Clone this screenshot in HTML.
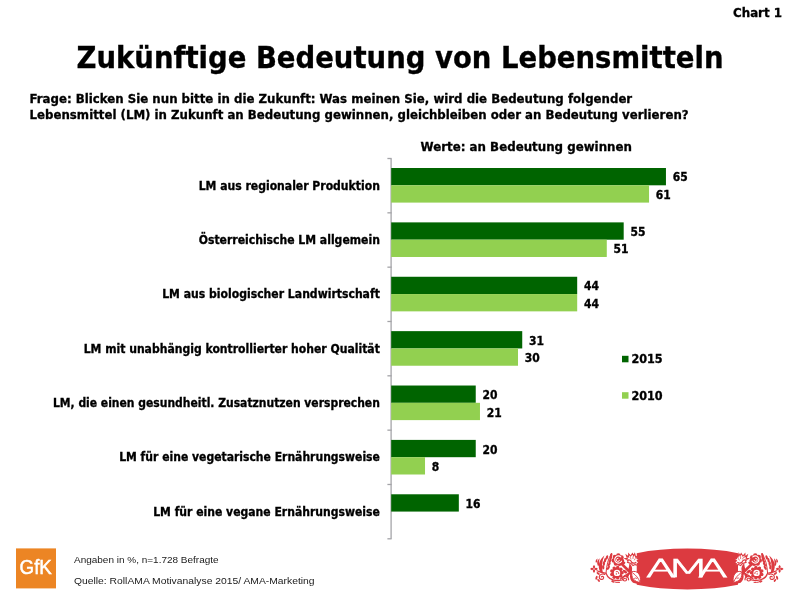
<!DOCTYPE html>
<html lang="de"><head><meta charset="utf-8"><title>Chart 1</title>
<style>html,body{margin:0;padding:0;background:#fff}svg{display:block}text{font-family:'DejaVu Sans Condensed','DejaVu Sans','Liberation Sans',sans-serif;font-weight:bold;fill:#000;stroke:#000;stroke-width:.3px}.s{font-family:'Liberation Sans',sans-serif;font-weight:normal;fill:#1a1a1a;stroke:none}</style></head>
<body>
<svg width="800" height="600" viewBox="0 0 800 600">
<rect width="800" height="600" fill="#fff"/>
<text x="733.00" y="16.60" font-size="13" textLength="49.0" lengthAdjust="spacingAndGlyphs">Chart 1</text>
<text x="76.50" y="67.60" font-size="30" textLength="647.0" lengthAdjust="spacingAndGlyphs">Zukünftige Bedeutung von Lebensmitteln</text>
<text x="29.60" y="102.60" font-size="13" textLength="602.6" lengthAdjust="spacingAndGlyphs">Frage: Blicken Sie nun bitte in die Zukunft: Was meinen Sie, wird die Bedeutung folgender</text>
<text x="29.60" y="118.60" font-size="13" textLength="659.0" lengthAdjust="spacingAndGlyphs">Lebensmittel (LM) in Zukunft an Bedeutung gewinnen, gleichbleiben oder an Bedeutung verlieren?</text>
<text x="420.60" y="150.80" font-size="13" textLength="211.4" lengthAdjust="spacingAndGlyphs">Werte: an Bedeutung gewinnen</text>
<g stroke="#a4a4a8" stroke-width="1.3" fill="none">
<path d="M391.1 158.5V538.8"/>
<path d="M387.4 158.50H391.6"/>
<path d="M387.4 212.83H391.6"/>
<path d="M387.4 267.16H391.6"/>
<path d="M387.4 321.49H391.6"/>
<path d="M387.4 375.82H391.6"/>
<path d="M387.4 430.15H391.6"/>
<path d="M387.4 484.48H391.6"/>
<path d="M387.4 538.81H391.6"/>
</g>
<rect x="391.20" y="168.00" width="274.75" height="17.30" fill="#006400"/>
<text x="672.75" y="181.25" font-size="11.5" textLength="15.0" lengthAdjust="spacingAndGlyphs">65</text>
<rect x="391.20" y="185.30" width="257.85" height="17.30" fill="#92D050"/>
<text x="655.85" y="198.70" font-size="11.5" textLength="15.0" lengthAdjust="spacingAndGlyphs">61</text>
<text x="198.70" y="189.75" font-size="11.7" textLength="181.2" lengthAdjust="spacingAndGlyphs">LM aus regionaler Produktion</text>
<rect x="391.20" y="222.38" width="232.49" height="17.30" fill="#006400"/>
<text x="630.48" y="235.70" font-size="11.5" textLength="15.0" lengthAdjust="spacingAndGlyphs">55</text>
<rect x="391.20" y="239.68" width="215.58" height="17.30" fill="#92D050"/>
<text x="613.58" y="253.15" font-size="11.5" textLength="15.0" lengthAdjust="spacingAndGlyphs">51</text>
<text x="198.70" y="244.08" font-size="11.7" textLength="181.2" lengthAdjust="spacingAndGlyphs">Österreichische LM allgemein</text>
<rect x="391.20" y="276.76" width="185.99" height="17.30" fill="#006400"/>
<text x="583.99" y="290.15" font-size="11.5" textLength="15.0" lengthAdjust="spacingAndGlyphs">44</text>
<rect x="391.20" y="294.06" width="185.99" height="17.30" fill="#92D050"/>
<text x="583.99" y="307.60" font-size="11.5" textLength="15.0" lengthAdjust="spacingAndGlyphs">44</text>
<text x="162.20" y="298.41" font-size="11.7" textLength="217.7" lengthAdjust="spacingAndGlyphs">LM aus biologischer Landwirtschaft</text>
<rect x="391.20" y="331.14" width="131.04" height="17.30" fill="#006400"/>
<text x="529.04" y="344.60" font-size="11.5" textLength="15.0" lengthAdjust="spacingAndGlyphs">31</text>
<rect x="391.20" y="348.44" width="126.81" height="17.30" fill="#92D050"/>
<text x="524.81" y="362.05" font-size="11.5" textLength="15.0" lengthAdjust="spacingAndGlyphs">30</text>
<text x="83.70" y="352.74" font-size="11.7" textLength="296.2" lengthAdjust="spacingAndGlyphs">LM mit unabhängig kontrollierter hoher Qualität</text>
<rect x="391.20" y="385.52" width="84.54" height="17.30" fill="#006400"/>
<text x="482.54" y="399.05" font-size="11.5" textLength="15.0" lengthAdjust="spacingAndGlyphs">20</text>
<rect x="391.20" y="402.82" width="88.77" height="17.30" fill="#92D050"/>
<text x="486.77" y="416.50" font-size="11.5" textLength="15.0" lengthAdjust="spacingAndGlyphs">21</text>
<text x="52.95" y="407.07" font-size="11.7" textLength="326.9" lengthAdjust="spacingAndGlyphs">LM, die einen gesundheitl. Zusatznutzen versprechen</text>
<rect x="391.20" y="439.90" width="84.54" height="17.30" fill="#006400"/>
<text x="482.54" y="453.50" font-size="11.5" textLength="15.0" lengthAdjust="spacingAndGlyphs">20</text>
<rect x="391.20" y="457.20" width="33.82" height="17.30" fill="#92D050"/>
<text x="431.82" y="470.95" font-size="11.5" textLength="7.5" lengthAdjust="spacingAndGlyphs">8</text>
<text x="119.20" y="461.40" font-size="11.7" textLength="260.7" lengthAdjust="spacingAndGlyphs">LM für eine vegetarische Ernährungsweise</text>
<rect x="391.20" y="494.28" width="67.63" height="17.30" fill="#006400"/>
<text x="465.63" y="507.95" font-size="11.5" textLength="15.0" lengthAdjust="spacingAndGlyphs">16</text>
<text x="153.20" y="515.73" font-size="11.7" textLength="226.7" lengthAdjust="spacingAndGlyphs">LM für eine vegane Ernährungsweise</text>
<rect x="622" y="355.8" width="6.5" height="6.5" fill="#006400"/>
<rect x="622" y="392.2" width="6.5" height="6.5" fill="#92D050"/>
<text x="631.40" y="363.20" font-size="11.6" textLength="31.2" lengthAdjust="spacingAndGlyphs">2015</text>
<text x="631.40" y="399.50" font-size="11.6" textLength="31.2" lengthAdjust="spacingAndGlyphs">2010</text>
<rect x="16" y="548.4" width="40" height="40" fill="#EC8524"/>
<text x="19.60" y="574.30" font-size="19.6" textLength="32.2" lengthAdjust="spacingAndGlyphs" class="s" style="fill:#fff;stroke:#fff;stroke-width:0.5">GfK</text>
<text x="74.00" y="562.50" font-size="9.3" textLength="144.6" lengthAdjust="spacingAndGlyphs" class="s">Angaben in %, n=1.728 Befragte</text>
<text x="74.00" y="584.10" font-size="9.3" textLength="240.6" lengthAdjust="spacingAndGlyphs" class="s">Quelle: RollAMA Motivanalyse 2015/ AMA-Marketing</text>
<g id="ama">
<path d="M636.75 553.2A80 20.4 0 0 1 738 553.2L738 584.8A80 20.4 0 0 1 636.75 584.8Z" fill="#DC3A40"/>
<g id="orn"><g fill="#DC3A40" stroke="none">
<path d="M594.10 569.00 q1.9 -2.3 3.8 0 q-1.9 2.3 -3.8 0z" transform="rotate(0 594.00 569.00)"/>
<path d="M594.10 569.00 q1.9 -2.3 3.8 0 q-1.9 2.3 -3.8 0z" transform="rotate(90 594.00 569.00)"/>
<path d="M594.10 569.00 q1.9 -2.3 3.8 0 q-1.9 2.3 -3.8 0z" transform="rotate(180 594.00 569.00)"/>
<path d="M594.10 569.00 q1.9 -2.3 3.8 0 q-1.9 2.3 -3.8 0z" transform="rotate(270 594.00 569.00)"/>
<ellipse cx="603.20" cy="567.20" rx="1.15" ry="2.30" transform="rotate(-5 603.20 567.20)"/>
<ellipse cx="603.90" cy="563.60" rx="1.15" ry="2.30" transform="rotate(0 603.90 563.60)"/>
<ellipse cx="605.10" cy="560.30" rx="1.15" ry="2.30" transform="rotate(8 605.10 560.30)"/>
<ellipse cx="606.90" cy="557.40" rx="1.15" ry="2.30" transform="rotate(18 606.90 557.40)"/>
<ellipse cx="608.40" cy="567.80" rx="1.15" ry="2.30" transform="rotate(30 608.40 567.80)"/>
<ellipse cx="609.10" cy="564.30" rx="1.15" ry="2.30" transform="rotate(32 609.10 564.30)"/>
<ellipse cx="610.00" cy="561.00" rx="1.15" ry="2.30" transform="rotate(30 610.00 561.00)"/>
<ellipse cx="610.70" cy="558.00" rx="1.15" ry="2.30" transform="rotate(25 610.70 558.00)"/>
<ellipse cx="611.20" cy="555.20" rx="1.15" ry="2.30" transform="rotate(15 611.20 555.20)"/>
<path d="M600.6 572.6C596.8 566 599.4 559.6 604.4 555.4C602 561 601.4 566 602.8 572.4Z"/>
<path d="M597.8 565.8C596.4 562.5 597.4 560.2 599.7 558.2C599 561 598.9 563 599.5 565.6Z"/>
<path d="M595.8 562.4C595.2 560.6 596 559.4 597.6 558.4C597.2 560 597.2 561 597.4 562.2Z"/>
<ellipse cx="596.50" cy="577.80" rx="1.00" ry="2.10" transform="rotate(15 596.50 577.80)"/>
<ellipse cx="598.20" cy="573.40" rx="1.00" ry="1.90" transform="rotate(-50 598.20 573.40)"/>
<ellipse cx="598.60" cy="580.40" rx="0.90" ry="1.70" transform="rotate(-40 598.60 580.40)"/>
<ellipse cx="612.60" cy="581.60" rx="0.80" ry="1.60" transform="rotate(-60 612.60 581.60)"/>
<circle cx="618.00" cy="559.80" r="4.8"/>
<circle cx="622.01" cy="561.04" r="2.25"/>
<circle cx="619.53" cy="563.71" r="2.25"/>
<circle cx="615.90" cy="563.44" r="2.25"/>
<circle cx="613.85" cy="560.42" r="2.25"/>
<circle cx="614.92" cy="556.94" r="2.25"/>
<circle cx="618.32" cy="555.61" r="2.25"/>
<circle cx="621.47" cy="557.44" r="2.25"/>
<circle cx="616.80" cy="572.70" r="5.3"/>
<circle cx="622.10" cy="572.70" r="1.7"/>
<circle cx="620.86" cy="576.11" r="1.7"/>
<circle cx="617.72" cy="577.92" r="1.7"/>
<circle cx="614.15" cy="577.29" r="1.7"/>
<circle cx="611.82" cy="574.51" r="1.7"/>
<circle cx="611.82" cy="570.89" r="1.7"/>
<circle cx="614.15" cy="568.11" r="1.7"/>
<circle cx="617.72" cy="567.48" r="1.7"/>
<circle cx="620.86" cy="569.29" r="1.7"/>
<path d="M619.6 563.6L622 562.6C625 565.6 628.4 568.6 631.4 571.4L629.6 573.6C626.4 570.6 623 567.4 619.6 563.6Z"/>
<path d="M629.4 563.2C631.6 565 632.6 567.4 632 570.2C631.8 572 631.8 573 632.4 574.2L629.4 574.8C628 572 628.2 568.6 629 566.4Z"/>
<ellipse cx="625.00" cy="571.60" rx="1.30" ry="2.60" transform="rotate(-55 625.00 571.60)"/>
<ellipse cx="627.60" cy="575.40" rx="1.30" ry="2.60" transform="rotate(25 627.60 575.40)"/>
<ellipse cx="623.60" cy="563.40" rx="1.20" ry="2.00" transform="rotate(50 623.60 563.40)"/>
<path d="M630.2 574C629.4 577.6 630.6 580.8 633 582.8L638 584L640.4 582L634 580C632 578.4 631.6 576 632.2 573.8Z"/>
</g>
<g fill="none" stroke="#DC3A40" stroke-width="1.2" stroke-linecap="round">
<path d="M606 573.2C606.6 565 608 559 611.4 553.6" stroke-width="1.0"/>
<path d="M597 570.8C600 572.4 603 572.6 606 573.2C607.4 577.4 611.6 580.6 618 580.6C621 580.6 623.4 579.8 625 578.2"/>
<path d="M604.8 574.4C603 573.4 599.4 574.2 599.2 577C599.1 579.6 602.6 580.2 603.5 578.2C604.1 576.6 602.3 575.7 601.4 576.8"/>
<path d="M628.6 579.8C628.8 577 626 575.4 623.8 576.6C621.8 577.9 622.6 581 625 581C626.8 581 627.2 579 625.8 578.6"/>
<path d="M611.6 579.2C612.6 581.8 616 583 619.6 582.4" stroke-width="1.0"/>
<path d="M620.4 579C623 576.8 627 574 631 572.6" stroke-width="1.2"/>
</g>
<g fill="none" stroke="#fff" stroke-linecap="round">
<path d="M620.8 556.9A3.6 3.6 0 1 0 621.5 561.2" stroke-width="1.15"/>
<path d="M619.5 560.2A1.6 1.6 0 1 1 618 558.3" stroke-width="0.9"/>
</g>
<circle cx="617.0" cy="572.9" r="3.2" fill="#fff"/>
<path d="M616.2 571.6C617.6 571 619 572 618.8 573.6" fill="none" stroke="#DC3A40" stroke-width="0.9" stroke-linecap="round"/>
<circle cx="616.4" cy="573.9" r="0.7" fill="#DC3A40"/>
<path d="M625.1 558.6L627.4 558.2L626.4 555.3L628.6 557L628.7 553.8L630.7 556L632.4 553.5L633.6 555.8L634.7 553.8L635.6 557L637.4 556.4L637 558.6L639 559.2L637.2 560.8L639 562.4L637.2 563.6L638.4 565.4L635 564.6L633 565.6L631 563.4L627.5 562.4L628.2 560.6Z" fill="#fff" stroke="#DC3A40" stroke-width="1.1" stroke-linejoin="miter"/>
<path d="M627.6 560.2C629.6 559.4 631 560.4 631.6 562.2C633 563.4 634.6 563.4 635.8 562.4" fill="none" stroke="#DC3A40" stroke-width="1.3" stroke-linecap="round"/>
<path d="M630.2 557.4L631 559M633 556.8L633 558.6M635.2 558.6L634.4 560" fill="none" stroke="#DC3A40" stroke-width="0.7" stroke-linecap="round"/>
<path d="M632.0 571.8C636.8 570 641.8 574.4 640.2 582.4C634.6 582.2 630.6 577.4 632.0 571.8Z" fill="#fff" stroke="#DC3A40" stroke-width="1.0"/>
<path d="M632.8 573C635.8 575 638.6 578.4 639.8 581.8" fill="none" stroke="#DC3A40" stroke-width="0.9"/>
<path d="M634.2 578.6C635.2 577.6 636.6 577.8 637 579" fill="none" stroke="#DC3A40" stroke-width="0.8"/></g>
<g transform="translate(1373.6 0) scale(-1 1)"><g fill="#DC3A40" stroke="none">
<path d="M594.10 569.00 q1.9 -2.3 3.8 0 q-1.9 2.3 -3.8 0z" transform="rotate(0 594.00 569.00)"/>
<path d="M594.10 569.00 q1.9 -2.3 3.8 0 q-1.9 2.3 -3.8 0z" transform="rotate(90 594.00 569.00)"/>
<path d="M594.10 569.00 q1.9 -2.3 3.8 0 q-1.9 2.3 -3.8 0z" transform="rotate(180 594.00 569.00)"/>
<path d="M594.10 569.00 q1.9 -2.3 3.8 0 q-1.9 2.3 -3.8 0z" transform="rotate(270 594.00 569.00)"/>
<ellipse cx="603.20" cy="567.20" rx="1.15" ry="2.30" transform="rotate(-5 603.20 567.20)"/>
<ellipse cx="603.90" cy="563.60" rx="1.15" ry="2.30" transform="rotate(0 603.90 563.60)"/>
<ellipse cx="605.10" cy="560.30" rx="1.15" ry="2.30" transform="rotate(8 605.10 560.30)"/>
<ellipse cx="606.90" cy="557.40" rx="1.15" ry="2.30" transform="rotate(18 606.90 557.40)"/>
<ellipse cx="608.40" cy="567.80" rx="1.15" ry="2.30" transform="rotate(30 608.40 567.80)"/>
<ellipse cx="609.10" cy="564.30" rx="1.15" ry="2.30" transform="rotate(32 609.10 564.30)"/>
<ellipse cx="610.00" cy="561.00" rx="1.15" ry="2.30" transform="rotate(30 610.00 561.00)"/>
<ellipse cx="610.70" cy="558.00" rx="1.15" ry="2.30" transform="rotate(25 610.70 558.00)"/>
<ellipse cx="611.20" cy="555.20" rx="1.15" ry="2.30" transform="rotate(15 611.20 555.20)"/>
<path d="M600.6 572.6C596.8 566 599.4 559.6 604.4 555.4C602 561 601.4 566 602.8 572.4Z"/>
<path d="M597.8 565.8C596.4 562.5 597.4 560.2 599.7 558.2C599 561 598.9 563 599.5 565.6Z"/>
<path d="M595.8 562.4C595.2 560.6 596 559.4 597.6 558.4C597.2 560 597.2 561 597.4 562.2Z"/>
<ellipse cx="596.50" cy="577.80" rx="1.00" ry="2.10" transform="rotate(15 596.50 577.80)"/>
<ellipse cx="598.20" cy="573.40" rx="1.00" ry="1.90" transform="rotate(-50 598.20 573.40)"/>
<ellipse cx="598.60" cy="580.40" rx="0.90" ry="1.70" transform="rotate(-40 598.60 580.40)"/>
<ellipse cx="612.60" cy="581.60" rx="0.80" ry="1.60" transform="rotate(-60 612.60 581.60)"/>
<circle cx="618.00" cy="559.80" r="4.8"/>
<circle cx="622.01" cy="561.04" r="2.25"/>
<circle cx="619.53" cy="563.71" r="2.25"/>
<circle cx="615.90" cy="563.44" r="2.25"/>
<circle cx="613.85" cy="560.42" r="2.25"/>
<circle cx="614.92" cy="556.94" r="2.25"/>
<circle cx="618.32" cy="555.61" r="2.25"/>
<circle cx="621.47" cy="557.44" r="2.25"/>
<circle cx="616.80" cy="572.70" r="5.3"/>
<circle cx="622.10" cy="572.70" r="1.7"/>
<circle cx="620.86" cy="576.11" r="1.7"/>
<circle cx="617.72" cy="577.92" r="1.7"/>
<circle cx="614.15" cy="577.29" r="1.7"/>
<circle cx="611.82" cy="574.51" r="1.7"/>
<circle cx="611.82" cy="570.89" r="1.7"/>
<circle cx="614.15" cy="568.11" r="1.7"/>
<circle cx="617.72" cy="567.48" r="1.7"/>
<circle cx="620.86" cy="569.29" r="1.7"/>
<path d="M619.6 563.6L622 562.6C625 565.6 628.4 568.6 631.4 571.4L629.6 573.6C626.4 570.6 623 567.4 619.6 563.6Z"/>
<path d="M629.4 563.2C631.6 565 632.6 567.4 632 570.2C631.8 572 631.8 573 632.4 574.2L629.4 574.8C628 572 628.2 568.6 629 566.4Z"/>
<ellipse cx="625.00" cy="571.60" rx="1.30" ry="2.60" transform="rotate(-55 625.00 571.60)"/>
<ellipse cx="627.60" cy="575.40" rx="1.30" ry="2.60" transform="rotate(25 627.60 575.40)"/>
<ellipse cx="623.60" cy="563.40" rx="1.20" ry="2.00" transform="rotate(50 623.60 563.40)"/>
<path d="M630.2 574C629.4 577.6 630.6 580.8 633 582.8L638 584L640.4 582L634 580C632 578.4 631.6 576 632.2 573.8Z"/>
</g>
<g fill="none" stroke="#DC3A40" stroke-width="1.2" stroke-linecap="round">
<path d="M606 573.2C606.6 565 608 559 611.4 553.6" stroke-width="1.0"/>
<path d="M597 570.8C600 572.4 603 572.6 606 573.2C607.4 577.4 611.6 580.6 618 580.6C621 580.6 623.4 579.8 625 578.2"/>
<path d="M604.8 574.4C603 573.4 599.4 574.2 599.2 577C599.1 579.6 602.6 580.2 603.5 578.2C604.1 576.6 602.3 575.7 601.4 576.8"/>
<path d="M628.6 579.8C628.8 577 626 575.4 623.8 576.6C621.8 577.9 622.6 581 625 581C626.8 581 627.2 579 625.8 578.6"/>
<path d="M611.6 579.2C612.6 581.8 616 583 619.6 582.4" stroke-width="1.0"/>
<path d="M620.4 579C623 576.8 627 574 631 572.6" stroke-width="1.2"/>
</g>
<g fill="none" stroke="#fff" stroke-linecap="round">
<path d="M620.8 556.9A3.6 3.6 0 1 0 621.5 561.2" stroke-width="1.15"/>
<path d="M619.5 560.2A1.6 1.6 0 1 1 618 558.3" stroke-width="0.9"/>
</g>
<circle cx="617.0" cy="572.9" r="3.2" fill="#fff"/>
<path d="M616.2 571.6C617.6 571 619 572 618.8 573.6" fill="none" stroke="#DC3A40" stroke-width="0.9" stroke-linecap="round"/>
<circle cx="616.4" cy="573.9" r="0.7" fill="#DC3A40"/>
<path d="M625.1 558.6L627.4 558.2L626.4 555.3L628.6 557L628.7 553.8L630.7 556L632.4 553.5L633.6 555.8L634.7 553.8L635.6 557L637.4 556.4L637 558.6L639 559.2L637.2 560.8L639 562.4L637.2 563.6L638.4 565.4L635 564.6L633 565.6L631 563.4L627.5 562.4L628.2 560.6Z" fill="#fff" stroke="#DC3A40" stroke-width="1.1" stroke-linejoin="miter"/>
<path d="M627.6 560.2C629.6 559.4 631 560.4 631.6 562.2C633 563.4 634.6 563.4 635.8 562.4" fill="none" stroke="#DC3A40" stroke-width="1.3" stroke-linecap="round"/>
<path d="M630.2 557.4L631 559M633 556.8L633 558.6M635.2 558.6L634.4 560" fill="none" stroke="#DC3A40" stroke-width="0.7" stroke-linecap="round"/>
<path d="M632.0 571.8C636.8 570 641.8 574.4 640.2 582.4C634.6 582.2 630.6 577.4 632.0 571.8Z" fill="#fff" stroke="#DC3A40" stroke-width="1.0"/>
<path d="M632.8 573C635.8 575 638.6 578.4 639.8 581.8" fill="none" stroke="#DC3A40" stroke-width="0.9"/>
<path d="M634.2 578.6C635.2 577.6 636.6 577.8 637 579" fill="none" stroke="#DC3A40" stroke-width="0.8"/></g>
<text y="576.9" font-size="25.2" style="font-family:'DejaVu Sans','Liberation Sans',sans-serif;font-weight:200;fill:#fff;stroke:#fff;stroke-width:0.9px"><tspan x="645.9" textLength="29.7" lengthAdjust="spacingAndGlyphs">A</tspan><tspan x="665.6" textLength="45" lengthAdjust="spacingAndGlyphs" stroke-width="0.4">M</tspan><tspan x="698.1" textLength="29.7" lengthAdjust="spacingAndGlyphs">A</tspan></text>
</g>
</svg>
</body></html>
